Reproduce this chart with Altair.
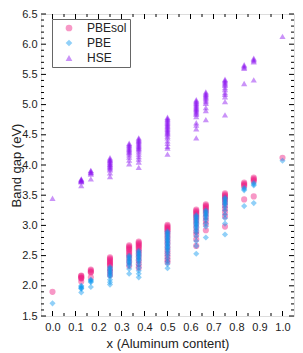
import altair as alt
import pandas as pd

# ---- data ----
x_values = [0.0, 0.125, 0.1667, 0.25, 0.3333, 0.375, 0.5, 0.625, 0.6667, 0.75, 0.8333, 0.875, 1.0]

hse = [
    [3.45],
    [3.77, 3.76, 3.75, 3.74, 3.73, 3.72, 3.66],
    [3.91, 3.90, 3.88, 3.87, 3.85, 3.77],
    [4.12, 4.10, 4.08, 4.07, 4.05, 4.03, 4.01, 4.00, 3.98, 3.96, 3.94, 3.92, 3.87, 3.81],
    [4.36, 4.34, 4.32, 4.30, 4.28, 4.26, 4.24, 4.22, 4.20, 4.17, 4.13, 4.08, 4.02],
    [4.45, 4.43, 4.41, 4.39, 4.37, 4.35, 4.33, 4.31, 4.29, 4.27, 4.25, 4.22, 4.18, 4.14, 4.10, 4.05, 3.96],
    [4.79, 4.77, 4.75, 4.73, 4.71, 4.69, 4.67, 4.65, 4.63, 4.61, 4.59, 4.57, 4.55, 4.53, 4.51, 4.48, 4.45, 4.40, 4.36, 4.31, 4.28, 4.18],
    [5.08, 5.06, 5.04, 5.02, 5.00, 4.98, 4.96, 4.94, 4.92, 4.90, 4.88, 4.86, 4.84, 4.80, 4.70, 4.66, 4.60, 4.45],
    [5.21, 5.19, 5.17, 5.15, 5.13, 5.11, 5.08, 5.05, 5.02, 4.95, 4.90, 4.75],
    [5.42, 5.40, 5.38, 5.36, 5.34, 5.32, 5.28, 5.25, 5.20, 5.17, 5.13, 5.05, 4.83],
    [5.66, 5.64, 5.62, 5.60, 5.35],
    [5.77, 5.75, 5.73, 5.71, 5.41],
    [6.13],
]

pbesol = [
    [1.90],
    [2.17, 2.16, 2.14, 2.13, 2.12, 2.07],
    [2.27, 2.25, 2.23, 2.22, 2.14],
    [2.47, 2.45, 2.43, 2.41, 2.39, 2.37, 2.35, 2.33, 2.28, 2.24, 2.18],
    [2.67, 2.65, 2.63, 2.61, 2.59, 2.56, 2.53, 2.50, 2.46, 2.40, 2.33],
    [2.73, 2.71, 2.69, 2.67, 2.65, 2.63, 2.60, 2.57, 2.53, 2.48, 2.42, 2.36, 2.30],
    [3.01, 2.99, 2.97, 2.95, 2.93, 2.91, 2.88, 2.84, 2.80, 2.75, 2.70, 2.64, 2.58, 2.53, 2.48, 2.43, 2.39],
    [3.26, 3.24, 3.22, 3.20, 3.18, 3.15, 3.12, 3.08, 3.03, 2.97, 2.90, 2.85, 2.77, 2.66],
    [3.35, 3.33, 3.31, 3.29, 3.27, 3.24, 3.20, 3.14, 3.08, 3.02, 2.92],
    [3.53, 3.51, 3.49, 3.47, 3.45, 3.42, 3.38, 3.33, 3.28, 3.22, 3.15, 2.98],
    [3.71, 3.69, 3.67, 3.65, 3.43],
    [3.79, 3.77, 3.75, 3.73, 3.48],
    [4.12],
]

pbe = [
    [1.71],
    [2.00, 1.99, 1.97, 1.96, 1.95, 1.89],
    [2.10, 2.09, 2.07, 2.06, 1.98],
    [2.31, 2.29, 2.27, 2.25, 2.23, 2.21, 2.19, 2.17, 2.15, 2.10, 2.06, 2.02],
    [2.50, 2.48, 2.46, 2.44, 2.42, 2.40, 2.38, 2.36, 2.33, 2.28, 2.20],
    [2.58, 2.56, 2.54, 2.52, 2.50, 2.48, 2.46, 2.44, 2.42, 2.39, 2.35, 2.30, 2.25, 2.20, 2.14],
    [2.90, 2.88, 2.86, 2.84, 2.82, 2.80, 2.78, 2.76, 2.74, 2.72, 2.70, 2.68, 2.66, 2.64, 2.62, 2.60, 2.57, 2.54, 2.50, 2.45, 2.40, 2.36, 2.29],
    [3.17, 3.15, 3.13, 3.11, 3.09, 3.07, 3.05, 3.03, 3.01, 2.99, 2.97, 2.94, 2.91, 2.88, 2.82, 2.74, 2.66, 2.53],
    [3.25, 3.23, 3.21, 3.19, 3.17, 3.15, 3.12, 3.09, 3.03, 2.98, 2.80],
    [3.46, 3.44, 3.42, 3.40, 3.38, 3.36, 3.34, 3.30, 3.25, 3.18, 3.12, 3.03, 2.85],
    [3.62, 3.60, 3.58, 3.32],
    [3.70, 3.68, 3.66, 3.37],
    [4.07],
]

methods = ["PBEsol", "PBE", "HSE"]
colors = ["#ee1a80", "#0a96f0", "#8a10f0"]
shapes = ["circle", "diamond", "triangle-up"]

x_major = [0.0, 0.1, 0.2, 0.3, 0.4, 0.5, 0.6, 0.7, 0.8, 0.9, 1.0]
x_minor = [0.05, 0.15, 0.25, 0.35, 0.45, 0.55, 0.65, 0.75, 0.85, 0.95]
y_major = [1.5, 2.0, 2.5, 3.0, 3.5, 4.0, 4.5, 5.0, 5.5, 6.0, 6.5]
y_minor = [round(1.5 + 0.1 * i, 1) for i in range(51) if i % 5 != 0]

rows = []
for m, series in zip(methods, [pbesol, pbe, hse]):
    for xv, vals in zip(x_values, series):
        for v in vals:
            rows.append({"x": xv, "gap": v, "method": m})
df = pd.DataFrame(rows)

W, H = 253, 302
FONT = "Liberation Sans"

xscale = alt.Scale(domain=[-0.05, 1.05], nice=False, zero=False)
yscale = alt.Scale(domain=[1.5, 6.5], nice=False, zero=False)

xaxis = alt.Axis(values=x_major, format=".1f", ticks=False, domain=False, grid=False,
                 labelFontSize=11, labelPadding=5, labelColor="#222",
                 title="x (Aluminum content)", titleFontSize=13, titleFontWeight="normal",
                 titlePadding=5, titleColor="#222")
yaxis = alt.Axis(values=y_major, format=".1f", ticks=False, domain=False, grid=False,
                 labelFontSize=11, labelPadding=4, labelColor="#222",
                 title="Band gap (eV)", titleFontSize=13, titleFontWeight="normal",
                 titleX=-21, titleBaseline="alphabetic", titleColor="#222")

points = alt.Chart(df).mark_point(filled=True, size=38, opacity=0.45, strokeWidth=0).encode(
    x=alt.X("x:Q", scale=xscale, axis=xaxis),
    y=alt.Y("gap:Q", scale=yscale, axis=yaxis),
    color=alt.Color("method:N", scale=alt.Scale(domain=methods, range=colors),
                    legend=alt.Legend(title=None, orient="none", legendX=11, legendY=5,
                                      strokeColor="#666", padding=3, symbolOffset=8,
                                      labelOffset=12, labelFontSize=12, symbolSize=45,
                                      rowPadding=3, labelColor="#222", fillColor="white")),
    shape=alt.Shape("method:N", scale=alt.Scale(domain=methods, range=shapes)),
    order=alt.Order("idx:Q"),
).transform_window(idx="row_number()")

def hticks(vals, length, side):
    d = pd.DataFrame({"x": vals})
    if side == "bottom":
        y1, y2 = H, H - length
    else:
        y1, y2 = 0, length
    return alt.Chart(d).mark_rule(color="black", strokeWidth=1).encode(
        x=alt.X("x:Q", scale=xscale, axis=xaxis), y=alt.value(y1), y2=alt.value(y2))

def vticks(vals, length, side):
    d = pd.DataFrame({"gap": vals})
    if side == "left":
        x1, x2 = 0, length
    else:
        x1, x2 = W, W - length
    return alt.Chart(d).mark_rule(color="black", strokeWidth=1).encode(
        y=alt.Y("gap:Q", scale=yscale, axis=yaxis), x=alt.value(x1), x2=alt.value(x2))

tick_layers = [
    hticks(x_major, 5, "bottom"), hticks(x_minor, 3, "bottom"),
    hticks(x_major, 5, "top"), hticks(x_minor, 3, "top"),
    vticks(y_major, 5, "left"), vticks(y_minor, 3, "left"),
    vticks(y_major, 5, "right"), vticks(y_minor, 3, "right"),
]

chart = alt.layer(points, *tick_layers).properties(
    width=W, height=H,
    autosize=alt.AutoSizeParams(type="none"),
    padding={"left": 33, "top": 6, "right": 1, "bottom": 37},
).configure_view(stroke="black", strokeWidth=1).configure(
    font=FONT, background="white"
)

chart.save("out.html", embed_options={"renderer": "svg", "actions": False})
